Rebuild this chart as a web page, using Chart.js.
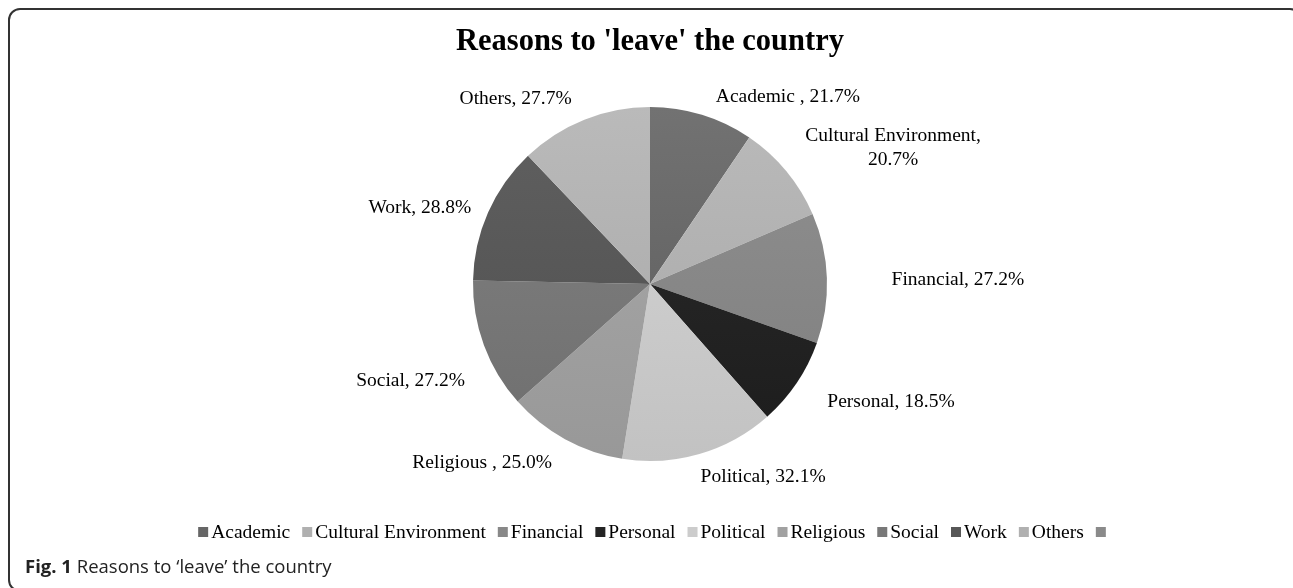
<!DOCTYPE html>
<html>
<head>
<meta charset="utf-8">
<script src="https://cdn.jsdelivr.net/npm/chart.js@4.4.0/dist/chart.umd.min.js"></script>
<style>
    body { margin: 0; background: #fff; overflow: hidden; }
    #wrap { position: relative; width: 1293px; height: 588px; }
    #chart { position: absolute; left: 0; top: 0; }
    #frame {
        position: absolute; left: 8px; top: 8px; width: 1290px; height: 580px;
        border: 2px solid #333; border-radius: 12px; pointer-events: none;
    }
    #caption {
        position: absolute; left: 25px; top: 554px; line-height: 24px;
        font-family: 'Open Sans', sans-serif; font-size: 18.5px; color: #222;
    }
    #caption b { font-weight: 700; }
</style>
</head>
<body>
<div id="wrap">
    <canvas id="chart" width="1293" height="588"></canvas>
    <div id="frame"></div>
    <div id="caption"><b>Fig. 1</b> Reasons to ‘leave’ the country</div>
</div>
<script>
// Dane wykresu
const categories = ['Academic', 'Cultural Environment', 'Financial', 'Personal', 'Political', 'Religious', 'Social', 'Work', 'Others'];
const values = [21.7, 20.7, 27.2, 18.5, 32.1, 25.0, 27.2, 28.8, 27.7];
const pointLabels = [
    ['Academic , 21.7%'],
    ['Cultural Environment,', '20.7%'],
    ['Financial, 27.2%'],
    ['Personal, 18.5%'],
    ['Political, 32.1%'],
    ['Religious , 25.0%'],
    ['Social, 27.2%'],
    ['Work, 28.8%'],
    ['Others, 27.7%']
];
const legendLabels = ['Academic', 'Cultural Environment', 'Financial', 'Personal', 'Political', 'Religious', 'Social', 'Work', 'Others', ''];

// Kolory (góra / dół gradientu)
const topColors = ['#727272', '#bababa', '#909090', '#2c2c2c', '#d6d6d6', '#aaaaaa', '#828282', '#606060', '#bababa'];
const bottomColors = ['#5a5a5a', '#a6a6a6', '#7e7e7e', '#1c1c1c', '#c2c2c2', '#989898', '#6e6e6e', '#4e4e4e', '#a6a6a6'];
const legendColors = ['#666', '#b0b0b0', '#888', '#242424', '#cccccc', '#a1a1a1', '#787878', '#575757', '#b0b0b0', '#8a8a8a'];

// Przesunięcia etykiet względem punktu na krawędzi wycinka
const labelNudge = [[83, -8], [99, -17], [121, 2], [86, 13], [61, 13], [-78, 15], [-64, 32], [-59, -1], [-65, -11]];

const serif = '"Liberation Serif", "Times New Roman", serif';

const decorPlugin = {
    id: 'decor',
    afterDraw(chart) {
        const ctx = chart.ctx;
        ctx.save();
        // Tytuł
        ctx.fillStyle = '#000';
        ctx.font = 'bold 30.5px ' + serif;
        ctx.textAlign = 'center';
        ctx.textBaseline = 'middle';
        ctx.fillText("Reasons to 'leave' the country", 650, 42);

        // Etykiety wycinków
        ctx.font = '19.5px ' + serif;
        const meta = chart.getDatasetMeta(0);
        meta.data.forEach((arc, i) => {
            const mid = (arc.startAngle + arc.endAngle) / 2;
            const r = arc.outerRadius + 10;
            const x = arc.x + Math.cos(mid) * r + labelNudge[i][0];
            const y = arc.y + Math.sin(mid) * r + labelNudge[i][1];
            const lines = pointLabels[i];
            const lh = 24;
            lines.forEach((line, j) => {
                ctx.fillText(line, x, y + (j - (lines.length - 1) / 2) * lh);
            });
        });

        // Legenda
        ctx.font = '19.5px ' + serif;
        ctx.textAlign = 'left';
        const box = 10, gapText = 3, gapItem = 12;
        const widths = legendLabels.map(t => box + (t ? gapText + ctx.measureText(t).width : 0));
        const total = widths.reduce((a, b) => a + b, 0) + gapItem * (widths.length - 1);
        let lx = 652 - total / 2;
        const ly = 532;
        legendLabels.forEach((t, i) => {
            ctx.fillStyle = legendColors[i];
            ctx.fillRect(lx, ly - box / 2, box, box);
            if (t) {
                ctx.fillStyle = '#000';
                ctx.fillText(t, lx + box + gapText, ly + 1);
            }
            lx += widths[i] + gapItem;
        });
        ctx.restore();
    }
};

const ctxPie = document.getElementById('chart').getContext('2d');
new Chart(ctxPie, {
    type: 'pie',
    data: {
        labels: categories,
        datasets: [{
            data: values,
            borderWidth: 0,
            backgroundColor: function(context) {
                const chart = context.chart;
                const area = chart.chartArea;
                if (!area) return bottomColors[context.dataIndex];
                const g = chart.ctx.createLinearGradient(0, area.top, 0, area.bottom);
                g.addColorStop(0, topColors[context.dataIndex]);
                g.addColorStop(1, bottomColors[context.dataIndex]);
                return g;
            }
        }]
    },
    options: {
        responsive: false,
        animation: false,
        layout: { padding: { top: 107, bottom: 127, left: 300, right: 293 } },
        plugins: {
            legend: { display: false },
            tooltip: { enabled: false }
        }
    },
    plugins: [decorPlugin]
});
</script>
</body>
</html>
